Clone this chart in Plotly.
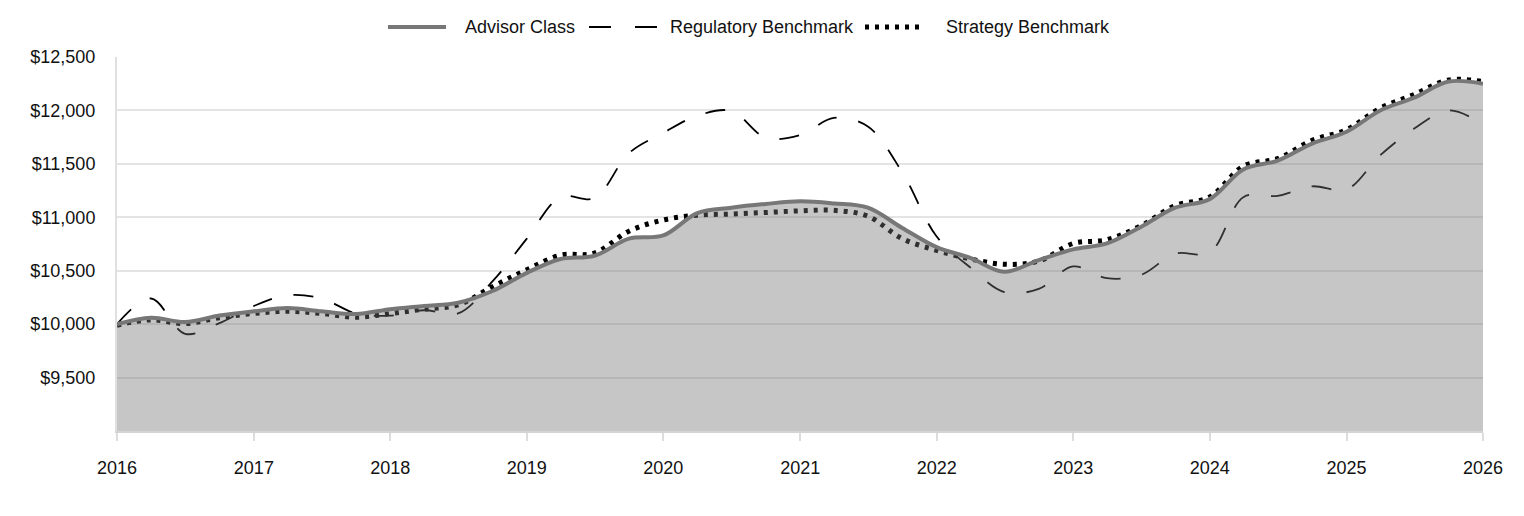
import plotly.graph_objects as go

quarters = [
    "2016-01-01", "2016-04-01", "2016-07-01", "2016-10-01",
    "2017-01-01", "2017-04-01", "2017-07-01", "2017-10-01",
    "2018-01-01", "2018-04-01", "2018-07-01", "2018-10-01",
    "2019-01-01", "2019-04-01", "2019-07-01", "2019-10-01",
    "2020-01-01", "2020-04-01", "2020-07-01", "2020-10-01",
    "2021-01-01", "2021-04-01", "2021-07-01", "2021-10-01",
    "2022-01-01", "2022-04-01", "2022-07-01", "2022-10-01",
    "2023-01-01", "2023-04-01", "2023-07-01", "2023-10-01",
    "2024-01-01", "2024-04-01", "2024-07-01", "2024-10-01",
    "2025-01-01", "2025-04-01", "2025-07-01", "2025-10-01",
    "2026-01-01",
]

advisor_class = [
    10000, 10060, 10020, 10080, 10120, 10150, 10120, 10095, 10140, 10170,
    10200, 10310, 10480, 10610, 10640, 10800, 10830, 11040, 11090, 11125,
    11150, 11130, 11090, 10900, 10720, 10620, 10490, 10600, 10700, 10755,
    10910, 11090, 11170, 11450, 11530, 11690, 11800, 12000, 12120, 12270,
    12250,
]

strategy_benchmark = [
    9990, 10040, 10005, 10060, 10100, 10120, 10100, 10065, 10100, 10140,
    10180, 10350, 10510, 10645, 10665, 10870, 10975, 11020, 11030, 11045,
    11060, 11065, 11010, 10800, 10690, 10610, 10560, 10590, 10755, 10790,
    10920, 11110, 11190, 11480, 11550, 11720, 11820, 12020, 12150, 12285,
    12270,
]

regulatory_benchmark = [
    10000, 10240, 9910, 10010, 10170, 10270, 10240, 10100, 10080, 10130,
    10100, 10400, 10800, 11190, 11180, 11600, 11790, 11950, 11995, 11745,
    11770, 11930, 11850, 11420, 10820, 10530, 10300, 10330, 10540, 10430,
    10460, 10660, 10670, 11190, 11200, 11290, 11260, 11580, 11830, 12000,
    11870,
]

y_ticks = [9500, 10000, 10500, 11000, 11500, 12000, 12500]
y_tick_labels = ["$9,500", "$10,000", "$10,500", "$11,000", "$11,500", "$12,000", "$12,500"]
x_ticks = ["%d-01-01" % y for y in range(2016, 2027)]
x_tick_labels = [str(y) for y in range(2016, 2027)]

FONT = "Arial, Liberation Sans, sans-serif"
W, H = 1524, 516
ML, MR, MT, MB = 117, 41, 57, 85
PW, PH = W - ML - MR, H - MT - MB

fig = go.Figure()

fig.add_trace(go.Scatter(
    x=quarters, y=regulatory_benchmark, name="Regulatory Benchmark",
    mode="lines", line=dict(color="#000000", width=1.8, dash="20px,22px", shape="spline"),
    showlegend=False,
))
fig.add_trace(go.Scatter(
    x=quarters, y=strategy_benchmark, name="Strategy Benchmark",
    mode="lines", line=dict(color="#000000", width=5, dash="4px,6px", shape="spline"),
    showlegend=False,
))
fig.add_trace(go.Scatter(
    x=quarters, y=advisor_class, name="Advisor Class",
    mode="lines", line=dict(color="#777777", width=4, shape="spline"),
    fill="tozeroy", fillcolor="rgba(117,117,117,0.41)",
    showlegend=False,
))


def px_x(px):
    return (px - ML) / PW


def px_y(py):
    return (H - MB - py) / PH


legend_y = 27
legend_items = [
    ("Advisor Class", 388, 446, 463, dict(color="#777777", width=4)),
    ("Regulatory Benchmark", 589, 657, 668, dict(color="#000000", width=1.8, dash="22px,24px")),
    ("Strategy Benchmark", 865, 921, 944, dict(color="#000000", width=5, dash="4px,6px")),
]
shapes = []
annotations = []
for label, x0, x1, xt, ln in legend_items:
    shapes.append(dict(type="line", xref="paper", yref="paper",
                       x0=px_x(x0), x1=px_x(x1), y0=px_y(legend_y), y1=px_y(legend_y),
                       line=ln))
    annotations.append(dict(text=label, xref="paper", yref="paper",
                            x=px_x(xt), y=px_y(legend_y), xanchor="left", yanchor="middle",
                            showarrow=False, font=dict(family=FONT, size=18, color="#111111")))

fig.update_layout(
    width=W, height=H, autosize=False,
    margin=dict(l=ML, r=MR, t=MT, b=MB, pad=0),
    paper_bgcolor="white", plot_bgcolor="white",
    font=dict(family=FONT, size=18, color="#111111"),
    shapes=shapes, annotations=annotations,
    showlegend=False,
)
fig.update_xaxes(
    range=["2016-01-01", "2026-01-01"], tickvals=x_ticks, ticktext=x_tick_labels,
    showgrid=False, zeroline=False,
    showline=True, linecolor="#d4d4d4", linewidth=2,
    ticks="outside", ticklen=8, tickcolor="#dddddd", tickwidth=2,
    ticklabelstandoff=11,
    tickfont=dict(family=FONT, size=18, color="#111111"),
)
fig.update_yaxes(
    range=[9000, 12500], tickvals=y_ticks, ticktext=y_tick_labels,
    showgrid=True, gridcolor="#e4e4e4", gridwidth=2, zeroline=False,
    showline=True, linecolor="#e0e0e0", linewidth=2,
    ticks="", ticklabelstandoff=16,
    tickfont=dict(family=FONT, size=18, color="#111111"),
)

fig.write_html("out.html")
